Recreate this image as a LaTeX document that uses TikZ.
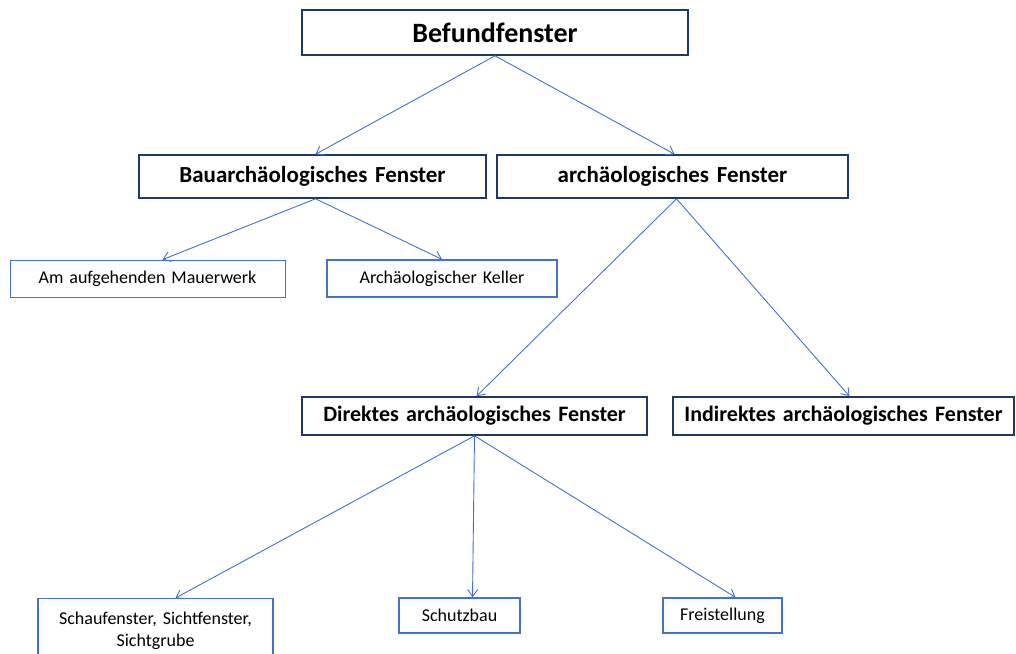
\documentclass[tikz,border=0pt]{standalone}
\usepackage{fontspec}
\setmainfont{Carlito}
\usepackage{tikz}
\usetikzlibrary{arrows.meta,positioning}
\definecolor{boxnavy}{RGB}{32,56,100}
\definecolor{linkblue}{RGB}{68,114,196}
\begin{document}
\begin{tikzpicture}[x=1pt,y=-1pt]

\tikzset{model/.style={
  rectangle,
  inner sep=0pt,
  align=center,
  draw=boxnavy, fill=white,
  line width=1.6pt
  },
  leaf/.style={
  model,
  draw=linkblue,
  line width=1.3pt,
  font=\fontsize{18}{22}\selectfont
  },
  link/.style={draw=linkblue, line width=0.9pt, -{Straight Barb[length=7pt,width=10pt]}}}

\useasboundingbox (0,0) rectangle (1016,653);

\node[model, text width=386pt, minimum height=45pt, font=\fontsize{28}{32}\selectfont\bfseries] (befund) at (495,32.5) {Befundfenster};

\node[model, text width=347pt, minimum height=43pt, font=\fontsize{23}{27}\selectfont\bfseries] (bau) at (312.5,176.5) {Bauarchäologisches Fenster};
\node[model, text width=351pt, minimum height=43pt, font=\fontsize{23}{27}\selectfont\bfseries] (arch) at (672.5,176.5) {archäologisches Fenster};

\node[leaf, text width=275pt, minimum height=37pt, line width=0.8pt] (mauer) at (147.5,278.5) {Am aufgehenden Mauerwerk};
\node[leaf, text width=230pt, minimum height=37pt] (keller) at (442,278.5) {Archäologischer Keller};

\node[model, text width=345pt, minimum height=38pt, font=\fontsize{22}{26}\selectfont\bfseries] (direkt) at (474.5,416) {Direktes archäologisches Fenster};
\node[model, text width=341pt, minimum height=38pt, font=\fontsize{22}{26}\selectfont\bfseries] (indirekt) at (843.5,416) {Indirektes archäologisches Fenster};

\node[leaf, text width=235pt, minimum height=64pt, anchor=north] (schau) at (155.5,598) {Schaufenster, Sichtfenster,\\Sichtgrube};
\node[leaf, text width=121pt, minimum height=35pt] (schutz) at (459.5,615.5) {Schutzbau};
\node[leaf, text width=119pt, minimum height=35pt] (frei) at (722.5,615.5) {Freistellung};

\path[link] (befund.south) -- ([xshift=3pt]bau.north);
\path[link] (befund.south) -- ([xshift=2pt]arch.north);
\path[link] ([xshift=3pt]bau.south) -- ([xshift=15pt]mauer.north);
\path[link] ([xshift=3pt]bau.south) -- (keller.north);
\path[link] ([xshift=4pt]arch.south) -- ([xshift=2pt]direkt.north);
\path[link] ([xshift=4pt]arch.south) -- ([xshift=6pt]indirekt.north);
\path[link] (direkt.south) -- ([xshift=20pt]schau.north);
\path[link] (direkt.south) -- ([xshift=13pt]schutz.north);
\path[link] (direkt.south) -- ([xshift=13pt]frei.north);
\end{tikzpicture}
\end{document}
